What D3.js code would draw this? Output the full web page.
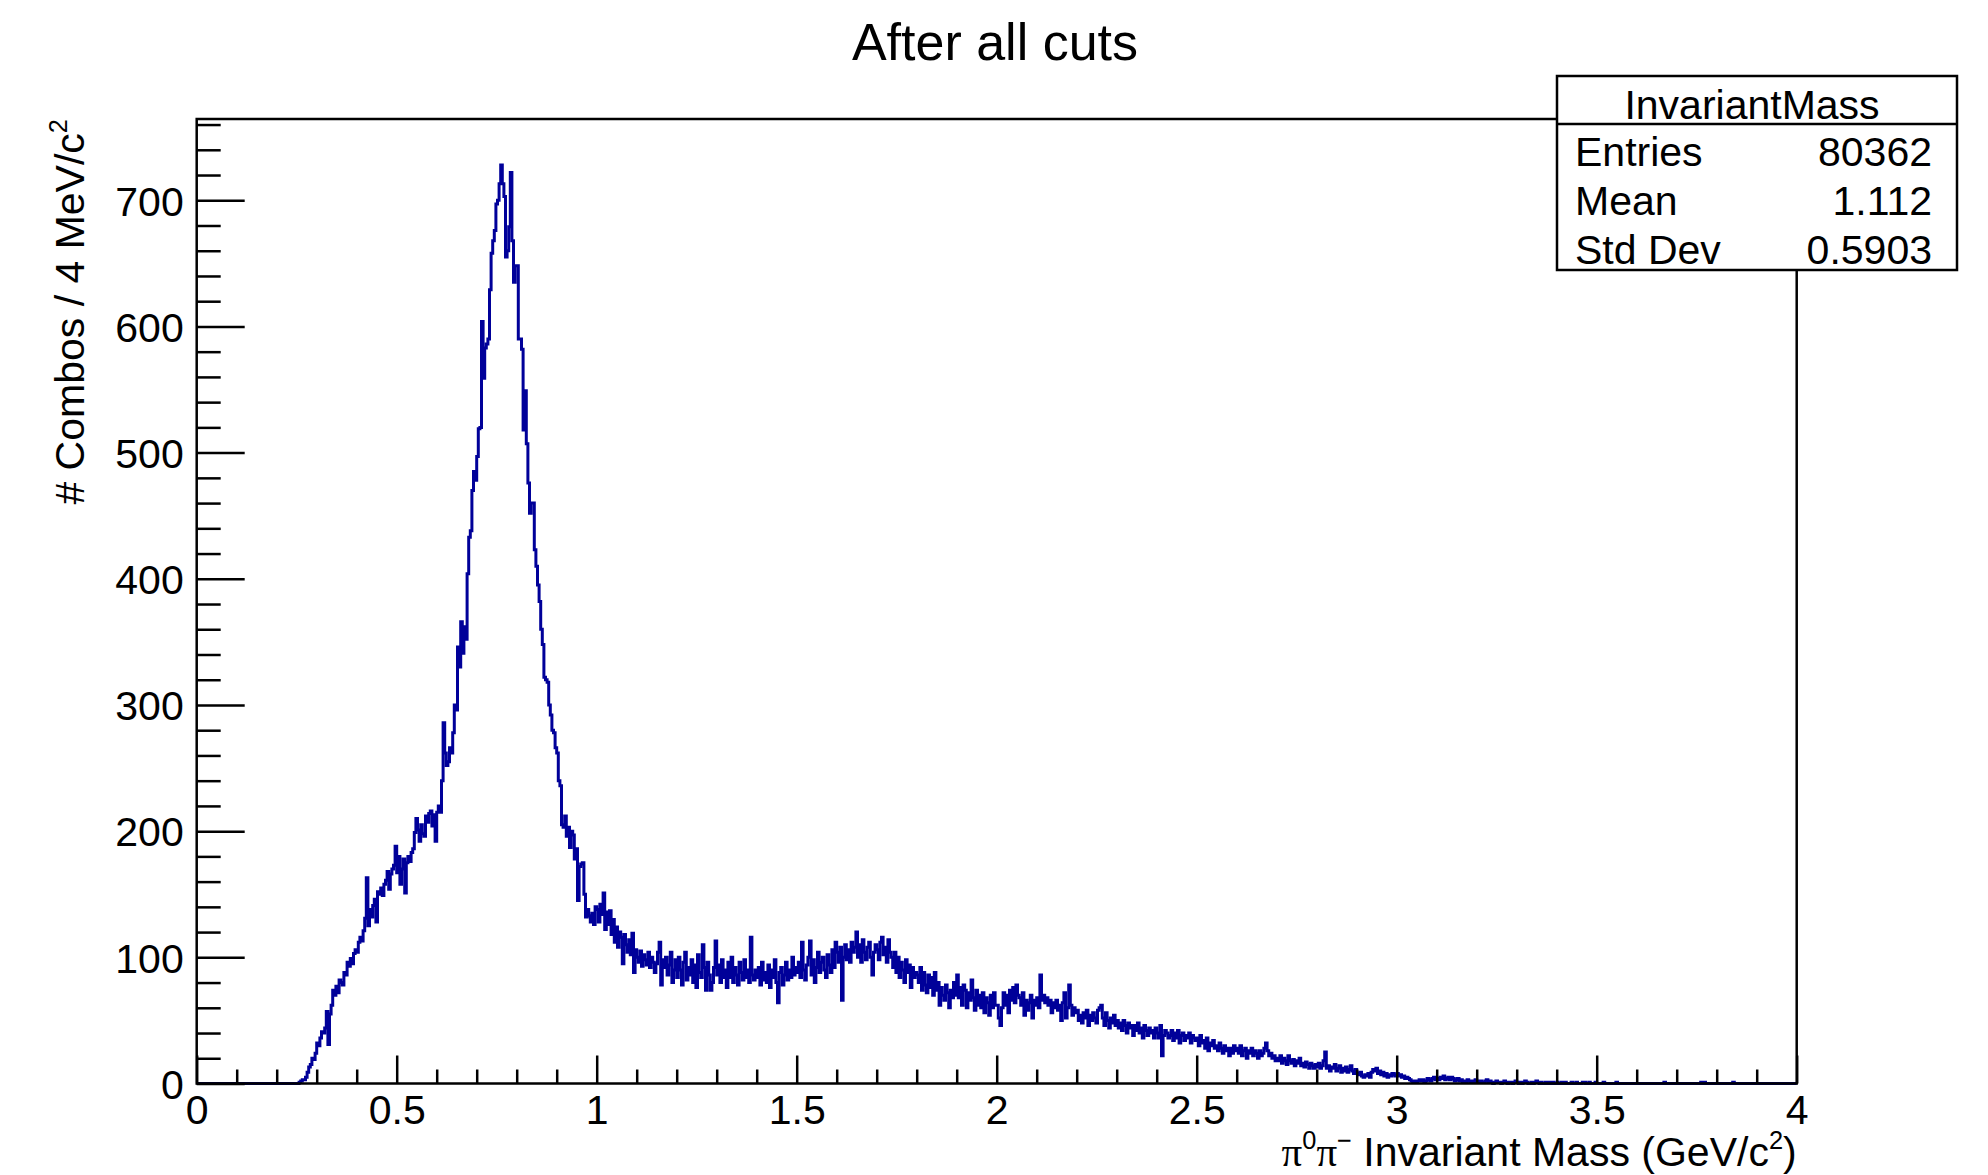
<!DOCTYPE html>
<html>
<head>
<meta charset="utf-8">
<script src="https://cdn.jsdelivr.net/npm/d3@7"></script>
<style>
html, body { margin: 0; padding: 0; background: #fff; }
svg { display: block; font-family: "Liberation Sans", Arial, Helvetica, sans-serif; }
</style>
</head>
<body>
<svg id="chart"></svg>
<script>
// counts per 4 MeV bin, 0 - 4 GeV, one row = 0.1 GeV (25 bins)
const binCounts = [
  0,0,0,0,0, 0,0,0,0,0, 0,0,0,0,0, 0,0,0,0,0, 0,0,0,0,0,
  0,0,0,0,0, 0,0,0,0,0, 0,0,0,0,0, 0,0,0,0,0, 0,0,0,0,0,
  0,0,0,0,0, 0,0,0,0,0, 0,0,0,0,1, 2,3,3,5,9, 13,15,20,19,24,
  32,30,36,41,40, 44,57,31,55,62, 74,70,77,72,82, 80,78,88,86,96, 93,99,95,103,106,
  104,112,116,113,121, 131,163,125,138,132, 141,146,128,152,150, 155,149,158,161,168, 154,166,170,173,188,
  167,180,158,170,178, 151,175,180,176,183, 186,199,210,201,192, 205,198,196,212,207, 214,216,204,213,192,
  215,220,215,240,286, 262,252,255,266,262, 278,300,296,346,330, 366,341,362,352,404, 433,438,470,485,478,
  497,519,520,604,559, 583,586,590,629,658, 668,676,697,700,713, 728,713,703,655,660, 679,722,668,635,648,
  648,590,590,582,518, 549,507,476,452,460, 460,423,410,395,382, 360,348,322,320,318, 300,292,280,278,266,
  262,240,236,205,203, 212,196,203,187,200, 197,178,186,145,172, 174,175,150,132,138, 133,128,135,126,140,
  138,128,142,134,151, 122,136,126,137,118, 130,112,124,108,120, 116,95,118,110,104, 114,102,119,88,106,
  100,96,105,93,102, 98,94,104,92,100, 96,88,95,104,112, 78,98,92,100,86, 94,104,80,90,98,
  84,100,90,78,96, 104,82,92,86,98, 80,94,76,102,88, 84,110,92,74,96, 86,74,80,92,113,
  86,94,80,98,84, 90,76,96,84,100, 80,92,86,78,96, 88,82,98,84,90, 80,116,86,82,90,
  84,92,78,96,82, 88,80,94,76,90, 84,98,80,64,88, 92,78,86,96,82, 90,84,100,86,92,
  88,96,84,112,90, 82,94,100,113,86, 98,80,92,104,88, 96,100,90,84,102, 94,88,106,92,112,
  104,96,108,66,100, 110,98,106,96,112, 104,108,120,100,110, 96,114,104,98,108, 112,100,86,104,110,
  106,98,112,116,102, 108,96,114,104,100, 92,104,88,100,84, 96,90,80,98,88, 94,76,92,84,88,
  86,80,92,74,88, 78,72,86,76,84, 70,88,74,80,62, 76,70,66,78,72, 60,74,68,80,70,
  86,68,76,62,78, 74,60,72,66,82, 68,58,74,62,70, 60,72,56,68,64, 54,70,60,72,62,
  62,52,46,60,72, 62,70,56,74,66, 76,64,78,70,68, 62,72,54,66,58, 64,70,52,66,62,
  68,60,86,66,70, 64,68,62,66,56, 64,60,66,58,62, 50,64,72,52,60, 78,62,54,60,56,
  58,50,54,48,56, 52,58,46,54,50, 56,52,48,58,60, 62,52,46,56,50, 44,52,48,54,46,
  50,44,48,42,50, 46,40,48,44,46, 38,46,42,48,40, 44,36,46,42,38, 44,40,42,36,44,
  40,36,46,22,38, 42,40,36,38,42, 34,40,36,42,32, 38,40,34,38,36, 40,32,38,36,34,
  36,30,38,32,34, 28,36,26,32,30, 34,28,30,26,32, 28,24,30,26,28, 22,28,24,30,26,
  28,24,30,22,26, 28,20,26,24,28, 22,26,24,20,26, 22,24,28,32,26, 22,24,20,22,18,
  20,18,22,16,20, 18,15,22,18,16, 19,14,18,16,20, 14,16,13,17,15, 12,16,14,12,15,
  13,16,12,14,18, 25,12,14,10,13, 12,15,10,12,14, 9,12,10,13,9, 11,14,10,8,11,
  8,7,9,6,5, 7,6,8,5,9, 11,10,12,8,10, 7,9,6,8,5, 7,6,8,7,6,
  8,6,7,5,6, 4,5,4,3,2, 1,2,1,2,3, 2,3,1,2,4, 3,2,4,5,3,
  4,3,5,4,6, 3,4,5,3,5, 4,2,3,4,2, 3,1,2,1,3, 2,1,2,1,3,
  2,1,2,1,1, 2,3,1,2,1, 0,1,2,1,1, 0,1,2,1,0, 1,1,0,1,2,
  1,0,1,0,1, 2,1,0,0,1, 0,1,2,1,0, 1,0,0,1,0, 1,0,1,0,0,
  1,0,0,1,0, 1,0,0,0,1, 0,0,1,0,0, 0,1,1,0,0, 1,0,0,0,1,
  0,0,0,0,1, 0,0,0,0,0, 0,0,1,0,0, 0,0,0,0,0, 0,0,0,0,0,
  0,0,0,0,0, 0,0,0,0,0, 0,0,0,0,0, 0,0,1,0,0, 0,0,0,0,0,
  0,0,0,0,0, 0,0,0,0,0, 0,0,0,0,0, 1,0,1,0,0, 0,0,0,0,0,
  0,0,0,0,0, 0,0,0,0,0, 1,0,0,0,0, 0,0,0,0,0, 0,0,0,0,0,
  0,0,0,0,0, 0,0,0,0,0, 0,0,0,0,0, 0,0,0,0,0, 0,0,0,0,0
];
const massRange = [0, 4];
const xTicks = [0, 0.5, 1, 1.5, 2, 2.5, 3, 3.5, 4];
const yTicks = [0, 100, 200, 300, 400, 500, 600, 700];

const chartTitle = "After all cuts";
const statsName = "InvariantMass";
const statsLabels = ["Entries", "Mean", "Std Dev"];
const statsValues = ["80362", "1.112", "0.5903"];

const width = 1988, height = 1175;
const plotL = 196.7, plotR = 1796.7, plotT = 119, plotB = 1083.5;
const ink = "#000", histColor = "#000099";

const svg = d3.select("#chart")
    .attr("width", width)
    .attr("height", height);

const nBins = binCounts.length;
const binWidth = (massRange[1] - massRange[0]) / nBins;
const yMax = d3.max(binCounts) * 1.05;

const x = d3.scaleLinear().domain(massRange).range([plotL, plotR]);
const y = d3.scaleLinear().domain([0, yMax]).range([plotB, plotT]);

// histogram as steps
const steps = binCounts.map((c, i) => [massRange[0] + i * binWidth, c]);
steps.push([massRange[1], binCounts[nBins - 1]]);

const line = d3.line()
    .x(d => x(d[0]))
    .y(d => y(d[1]))
    .curve(d3.curveStepAfter);

svg.append("path")
    .datum(steps)
    .attr("d", line)
    .attr("fill", "none")
    .attr("stroke", histColor)
    .attr("stroke-width", 3);

// frame
svg.append("rect")
    .attr("x", plotL).attr("y", plotT)
    .attr("width", plotR - plotL).attr("height", plotB - plotT)
    .attr("fill", "none").attr("stroke", ink).attr("stroke-width", 2.5);

function styleAxis(g) {
  g.select(".domain").remove();
  g.selectAll(".tick line").attr("stroke", ink).attr("stroke-width", 2.5);
  g.selectAll("text").attr("fill", ink).attr("font-size", 41);
}

// y axis
const yMinor = d3.range(0, yMax, 20).filter(v => v % 100 !== 0);
svg.append("g")
    .attr("transform", `translate(${plotL},0)`)
    .call(d3.axisLeft(y).tickValues(yMinor).tickSize(-24).tickFormat(""))
    .call(styleAxis);
svg.append("g")
    .attr("transform", `translate(${plotL},0)`)
    .call(d3.axisLeft(y).tickValues(yTicks).tickSize(-48).tickPadding(13).tickFormat(d3.format("d")))
    .call(styleAxis)
    .selectAll("text").attr("dy", "0.36em");

// x axis
const xMinor = d3.range(0, 40).map(i => i / 10).filter(v => Math.abs(v * 2 - Math.round(v * 2)) > 1e-6);
svg.append("g")
    .attr("transform", `translate(0,${plotB})`)
    .call(d3.axisBottom(x).tickValues(xMinor).tickSize(-14).tickFormat(""))
    .call(styleAxis);
svg.append("g")
    .attr("transform", `translate(0,${plotB})`)
    .call(d3.axisBottom(x).tickValues(xTicks).tickSize(-28).tickPadding(11).tickFormat(d3.format("~g")))
    .call(styleAxis);

// text with superscripts: parts = [[text, isSup, serif], ...]
function richText(sel, parts, size) {
  let up = false;
  parts.forEach(([t, sup, serif]) => {
    const ts = sel.append("tspan").text(t);
    if (serif) ts.attr("font-family", "'Liberation Serif', 'DejaVu Serif', serif");
    if (sup && !up) { ts.attr("dy", -0.42 * size).attr("font-size", size * 0.62); up = true; }
    else if (!sup && up) { ts.attr("dy", 0.42 * size).attr("font-size", size); up = false; }
    else if (sup) ts.attr("font-size", size * 0.62);
  });
}

// axis titles
const xt = svg.append("text")
    .attr("x", plotR).attr("y", 1166)
    .attr("text-anchor", "end").attr("font-size", 41).attr("fill", ink);
richText(xt, [["π", false, true], ["0", true], ["π", false, true], ["−", true], [" Invariant Mass (GeV/c", false], ["2", true], [")", false]], 41);

const yt = svg.append("text")
    .attr("transform", `translate(84,${plotT}) rotate(-90)`)
    .attr("text-anchor", "end").attr("font-size", 41).attr("fill", ink);
richText(yt, [["# Combos / 4 MeV/c", false], ["2", true]], 41);

// title
svg.append("text")
    .attr("x", 995).attr("y", 60)
    .attr("text-anchor", "middle").attr("font-size", 52).attr("fill", ink)
    .text(chartTitle);

// stats box
const box = { x: 1557, y: 76, w: 400, h: 194, head: 48 };
svg.append("rect")
    .attr("x", box.x).attr("y", box.y).attr("width", box.w).attr("height", box.h)
    .attr("fill", "#fff").attr("stroke", ink).attr("stroke-width", 2.5);
svg.append("line")
    .attr("x1", box.x).attr("x2", box.x + box.w)
    .attr("y1", box.y + box.head).attr("y2", box.y + box.head)
    .attr("stroke", ink).attr("stroke-width", 2.5);
svg.append("text")
    .attr("x", 1752).attr("y", 119)
    .attr("text-anchor", "middle").attr("font-size", 41).attr("fill", ink)
    .text(statsName);

const rowY = d3.scalePoint().domain(statsLabels).range([166, 264]);
svg.append("g").selectAll("text").data(statsLabels).join("text")
    .attr("x", 1575).attr("y", d => rowY(d))
    .attr("font-size", 41).attr("fill", ink)
    .text(d => d);
svg.append("g").selectAll("text").data(statsValues).join("text")
    .attr("x", 1932).attr("y", (d, i) => rowY(statsLabels[i]))
    .attr("text-anchor", "end").attr("font-size", 41).attr("fill", ink)
    .text(d => d);
</script>
</body>
</html>
